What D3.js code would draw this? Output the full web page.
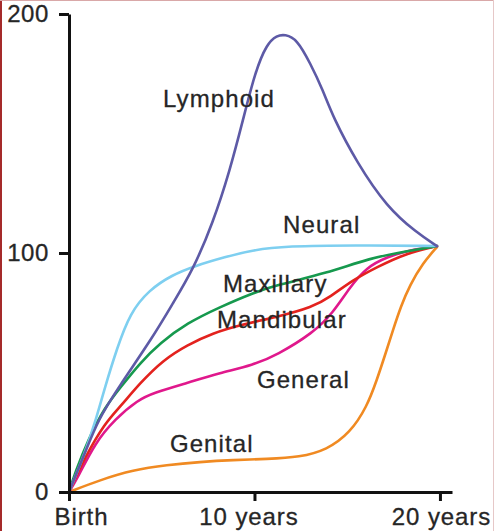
<!DOCTYPE html>
<html>
<head>
<meta charset="utf-8">
<script src="https://cdn.jsdelivr.net/npm/d3@7"></script>
<style>
  html, body { margin: 0; padding: 0; background: #fff; }
  svg { display: block; }
  text { font-family: "Liberation Sans", Arial, sans-serif; fill: #262626; }
</style>
</head>
<body>
<svg id="chart" width="494" height="531"></svg>
<script>
// ---- data (years, relative size %) ----
const xTickValues = [0, 10, 20];
const xTickLabels = ["Birth", "10 years", "20 years"];
const yTickValues = [0, 100, 200];

const lymphoid = [[0,0],[0.32,6.3],[0.86,16.3],[1.56,30.1],[2.64,43.5],[4.53,64.9],[5.61,79.1],[6.68,92.9],[7.76,112.6],[8.68,134.7],[9.38,155.6],[10.03,175.7],[10.67,187.6],[11.21,191],[11.64,191.5],[12.29,189.5],[13.0,179.5],[13.69,168.2],[14.23,156.9],[15.53,137.7],[17.14,119.2],[18.76,108.4],[19.84,102.9]];
const neural = [[0,0],[0.86,16.3],[1.4,28.9],[1.94,43.9],[2.59,60.2],[3.29,74.9],[4.31,84.5],[5.55,90.8],[6.79,94.6],[8.41,98.3],[9.92,101.3],[11.75,102.9],[15.3,103.3],[19.84,102.9]];
const maxillary = [[0,0],[0.32,7.9],[1.02,21.8],[1.94,35.6],[2.75,43.5],[3.83,54],[4.91,62.3],[6.36,70.7],[8.14,77.4],[9.92,83.3],[11.21,86.6],[13.91,91.6],[16.23,97.9],[18.22,100.8],[19.84,102.9]];
const mandibular = [[0,0],[0.86,14.6],[1.94,28.9],[2.75,35.6],[3.83,45.6],[5.07,55.2],[6.36,61.5],[7.76,66.5],[9.22,69.9],[11.21,73.2],[13.15,77.4],[14.07,81.6],[15.31,88.7],[16.6,94.1],[18.22,100],[19.84,102.9]];
const general = [[0,0],[0.49,6.3],[1.4,20.5],[2.48,30.5],[3.72,38.5],[4.53,41.4],[6.36,45.6],[8.14,49.8],[9.92,53.1],[11.21,57.3],[13.15,66.5],[14.23,74.9],[15.15,85.8],[16.06,94.1],[17.14,98.3],[18.38,101.3],[19.84,102.9]];
const genital = [[0,0],[1.67,5],[3.45,9.2],[5.28,11.3],[7.06,12.6],[8.84,13.4],[10.67,13.8],[12.45,14.6],[13.9,17.6],[15.15,24.7],[16.06,35.6],[16.6,46.9],[17.04,57.3],[17.47,67.8],[17.9,77.8],[18.38,86.6],[19.08,95.8],[19.84,102.5]];

const seriesNames = ["Genital", "General", "Mandibular", "Maxillary", "Neural", "Lymphoid"];
const seriesData = [genital, general, mandibular, maxillary, neural, lymphoid];
const seriesColors = ["#f08a22", "#e0188c", "#e3221e", "#16994e", "#7ecff0", "#5d5aa6"];
// label anchor (start, baseline) in data units
const labelPos = [[5.44,16.7],[10.13,43.5],[7.98,68.6],[8.3,83.7],[11.54,108.4],[5.07,161.1]];

// ---- layout ----
const svg = d3.select("#chart");
const W = 494, H = 531;
const x = d3.scaleLinear().domain([0, 20.65]).range([69, 452]);
const y = d3.scaleLinear().domain([0, 200]).range([492, 14]);

// frame edges
svg.append("rect").attr("x", 0).attr("y", 0).attr("width", W).attr("height", H).attr("fill", "#fff");
svg.append("line").attr("x1", 1).attr("x2", 1).attr("y1", 0).attr("y2", H).attr("stroke", "#a52a2a").attr("stroke-width", 2);
svg.append("line").attr("x1", 0).attr("x2", W).attr("y1", 0.5).attr("y2", 0.5).attr("stroke", "#d9a8a8").attr("stroke-width", 1);
svg.append("line").attr("x1", W - 0.5).attr("x2", W - 0.5).attr("y1", 0).attr("y2", H).attr("stroke", "#e6c8c8").attr("stroke-width", 1);

// lines
const line = d3.line().x(d => x(d[0])).y(d => y(d[1])).curve(d3.curveBasis);
svg.append("g").selectAll("path").data(seriesData).join("path")
  .attr("d", line)
  .attr("fill", "none")
  .attr("stroke", (d, i) => seriesColors[i])
  .attr("stroke-width", 2.6)
  .attr("stroke-linecap", "round");

// axes
const yAxis = d3.axisLeft(y).tickValues(yTickValues).tickSize(10).tickPadding(10).tickSizeOuter(0);
const gy = svg.append("g").attr("transform", `translate(${x(0)},0)`).call(yAxis);
gy.select(".domain").attr("stroke", "#111").attr("stroke-width", 3);
gy.selectAll(".tick line").attr("stroke", "#111").attr("stroke-width", 3);
gy.selectAll(".tick text").attr("font-size", 24).attr("letter-spacing", "0.6px").attr("fill", "#262626")
  .attr("stroke", "#262626").attr("stroke-width", 0.3)
  .attr("font-family", "Liberation Sans, Arial, sans-serif").attr("x", -20);

const xOffsets = [12, -6, 1];
const xAxis = d3.axisBottom(x).tickValues(xTickValues).tickFormat((d, i) => xTickLabels[i]).tickSize(9).tickSizeOuter(0);
const gx = svg.append("g").attr("transform", `translate(0,${y(0)})`).call(xAxis);
gx.select(".domain").attr("stroke", "#111").attr("stroke-width", 3);
gx.selectAll(".tick line").attr("stroke", "#111").attr("stroke-width", 3);
gx.selectAll(".tick text").attr("font-size", 24).attr("letter-spacing", "0.9px").attr("fill", "#262626")
  .attr("stroke", "#262626").attr("stroke-width", 0.3)
  .attr("font-family", "Liberation Sans, Arial, sans-serif")
  .attr("y", 33).attr("dy", 0).attr("dx", (d, i) => xOffsets[i]);

// series labels
svg.append("g").selectAll("text").data(seriesNames).join("text")
  .attr("x", (d, i) => x(labelPos[i][0]))
  .attr("y", (d, i) => y(labelPos[i][1]))
  .attr("font-size", 24)
  .attr("letter-spacing", "1.1px")
  .attr("stroke", "#262626").attr("stroke-width", 0.3)
  .text(d => d);
</script>
</body>
</html>
